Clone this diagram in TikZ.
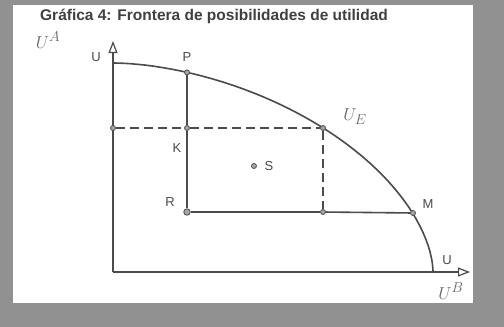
\documentclass[tikz,border=0pt]{standalone}
\usepackage{fontspec}
\setmainfont{Liberation Sans}
\usetikzlibrary{arrows.meta}
\definecolor{bggray}{RGB}{145,145,145}
\definecolor{ink}{RGB}{75,75,75}
\begin{document}
\begin{tikzpicture}[x=1pt,y=-1pt,
  lbl/.style={font=\fontsize{13}{15}\selectfont, text=ink, inner sep=0pt},
  mlbl/.style={font=\fontsize{19}{22}\selectfont, text=black!60, inner sep=0pt},
  titlestyle/.style={font=\fontsize{15.5}{18}\selectfont\bfseries, text=black!75, inner sep=0pt},
  ln/.style={draw=ink, line width=1.6pt},
  dashln/.style={draw=ink, line width=1.4pt, dash pattern=on 9pt off 5pt},
  axisln/.style={draw=ink, line width=1.7pt, -{Triangle[open, length=12pt, width=9pt, line width=1.2pt]}},
  dotn/.style={circle, draw=ink, fill=black!35, line width=0.8pt, minimum size=5pt, inner sep=0pt},
  bigdot/.style={dotn, minimum size=6.5pt}]
\useasboundingbox (0,0) rectangle (504,327);
\fill[bggray] (0,0) rectangle (504,327);
\fill[white] (13,5) rectangle (473,303);
\node[titlestyle] (title) at (214,16) {Gráfica 4: Frontera de posibilidades de utilidad};
% axes
\coordinate (O) at (113,272);
\coordinate (Ytip) at (113,41);
\coordinate (Xtip) at (470,272);
\draw[axisln] (O) -- (Ytip);
\draw[axisln] (O) -- (Xtip);
% frontier
\draw[ln] plot[domain=0:90, samples=120, variable=\t]
  ({113+320*pow(max(cos(\t),0.0001),1.142857)}, {272-209*pow(max(sin(\t),0.0001),1.142857)});
% points
\node[dotn] (A) at (113,128) {};
\node[dotn] (K) at (187,128) {};
\node[dotn] (P) at (187,72.4) {};
\node[dotn] (E) at (323,128) {};
\node[dotn] (D) at (323,212) {};
\node[dotn] (M) at (413,213) {};
\node[bigdot] (R) at (187,212) {};
\node[dotn] (S) at (254,166) {};
% lines
\draw[ln] (P) -- (K);
\draw[ln] (K) -- (R);
\draw[ln] (R) -- (D);
\draw[ln] (D) -- (M);
\draw[dashln] (A) -- (K);
\draw[dashln] (K) -- (E);
\draw[dashln] (E) -- (D);
% labels
\node[mlbl] (UA) at (48,40) {$U^A$};
\node[lbl] (Uy) at (96,57) {U};
\node[lbl] (Plbl) at (187,57) {P};
\node[lbl] (Klbl) at (177,148) {K};
\node[lbl] (Rlbl) at (170,202) {R};
\node[lbl] (Slbl) at (269,166) {S};
\node[mlbl] (UE) at (355,117) {$U_E$};
\node[lbl] (Mlbl) at (428,204) {M};
\node[lbl] (Ux) at (447,260) {U};
\node[mlbl] (UB) at (451,291) {$U^B$};
\end{tikzpicture}
\end{document}
